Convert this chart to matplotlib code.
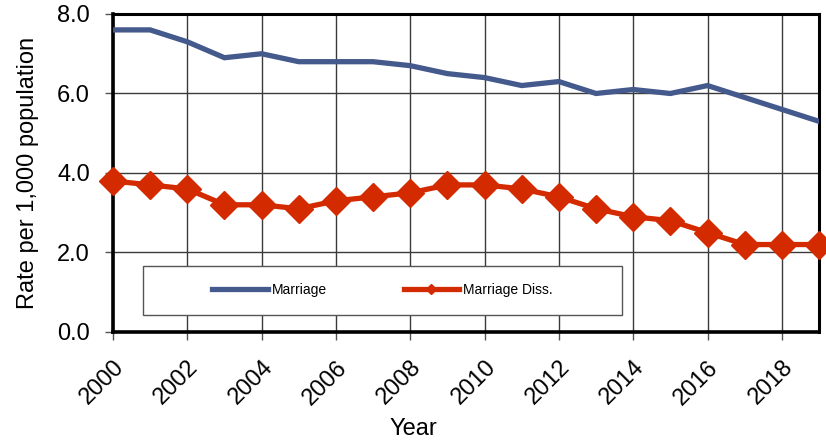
import matplotlib.pyplot as plt
from matplotlib.patches import Rectangle

plt.rcParams['font.family'] = ['Liberation Sans', 'DejaVu Sans']

years = list(range(2000, 2020))
marriage = [7.6, 7.6, 7.3, 6.9, 7.0, 6.8, 6.8, 6.8, 6.7, 6.5,
            6.4, 6.2, 6.3, 6.0, 6.1, 6.0, 6.2, 5.9, 5.6, 5.3]
marriage_diss = [3.8, 3.7, 3.6, 3.2, 3.2, 3.1, 3.3, 3.4, 3.5, 3.7,
                 3.7, 3.6, 3.4, 3.1, 2.9, 2.8, 2.5, 2.2, 2.2, 2.2]
xticks = list(range(2000, 2020, 2))
yticks = [0, 2, 4, 6, 8]

fig = plt.figure(figsize=(8.26, 4.43), dpi=100)
ax = fig.add_axes([0.1368, 0.2506, 0.8547, 0.7178])

ax.plot(years, marriage, color='#44598c', lw=3.8, label='Marriage',
        solid_joinstyle='miter', zorder=3)
ax.plot(years, marriage_diss, color='#d42a00', lw=3.8, marker='D', ms=14.5,
        label='Marriage Diss.', zorder=3, clip_on=False)

ax.set_xlim(2000, 2019)
ax.set_ylim(0, 8)
ax.set_xticks(xticks)
ax.set_yticks(yticks)
ax.set_yticklabels([f'{v:.1f}' for v in yticks])
ax.set_xticklabels([str(x) for x in xticks], rotation=45, ha='right',
                   rotation_mode='anchor')
ax.tick_params(axis='both', labelsize=17, color='#555555', length=5.5, width=1)
ax.tick_params(axis='x', pad=12)
ax.tick_params(axis='y', pad=11)

ax.grid(True, color='#3a3a3a', lw=1)
ax.set_axisbelow(True)

for side in ['left', 'bottom']:
    ax.spines[side].set_linewidth(2.6)
for side in ['top', 'right']:
    ax.spines[side].set_linewidth(2.2)

ax.set_xlabel('Year', fontsize=17, va='top')
ax.xaxis.set_label_coords(0.426, -0.27)
ax.set_ylabel('Rate per 1,000 population', fontsize=17)
ax.yaxis.set_label_coords(-0.105, 0.5)

# legend frame drawn as a white box over the grid
ax.add_patch(Rectangle((0.0425, 0.0535), 0.6785, 0.155, transform=ax.transAxes,
                       facecolor='white', edgecolor='#555555', lw=1, zorder=2))
leg = ax.legend(loc='center', bbox_to_anchor=(0.382, 0.131), ncol=2,
                frameon=False, fontsize=10, handlelength=4.0,
                handletextpad=0.3, columnspacing=5.5, markerscale=0.35)
leg.set_zorder(4)

fig.savefig('out.png', dpi=100)
